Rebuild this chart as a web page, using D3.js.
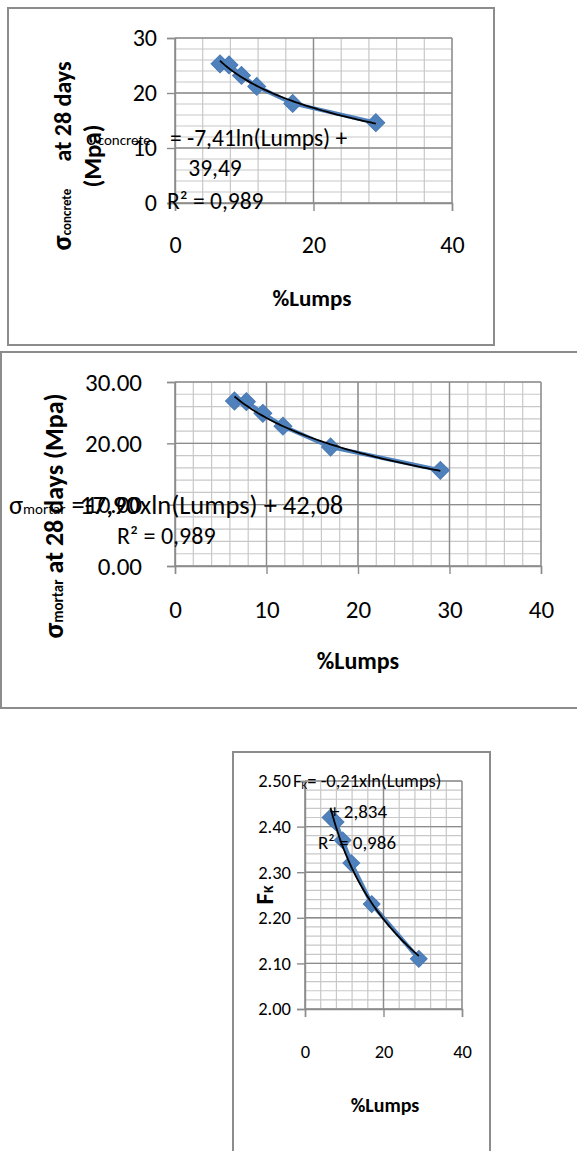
<!DOCTYPE html>
<html>
<head>
<meta charset="utf-8">
<script src="https://cdn.jsdelivr.net/npm/d3@7/dist/d3.min.js"></script>
<style>
  body { margin: 0; background: #fff; }
  text { font-family: Carlito, Lato, "Open Sans", sans-serif; }
</style>
</head>
<body>
<svg id="chart" width="577" height="1151"></svg>
<script>
// % lumps in the aggregate (same samples in all three charts)
const lumps = [6.5, 7.8, 9.6, 11.8, 17, 29];
// compressive strength of concrete at 28 days (MPa)
const concreteStrength = [25.3, 25.1, 23.2, 21.2, 18.1, 14.6];
// compressive strength of mortar at 28 days (MPa)
const mortarStrength = [26.9, 26.8, 24.9, 22.8, 19.4, 15.6];
// fineness modulus
const fkValues = [2.42, 2.41, 2.37, 2.32, 2.23, 2.11];

const concreteYTicks = [0, 10, 20, 30];
const mortarYTicks = [0, 10, 20, 30];
const fkYTicks = [2.0, 2.1, 2.2, 2.3, 2.4, 2.5];
const xTicksBy20 = [0, 20, 40];
const xTicksBy10 = [0, 10, 20, 30, 40];

const BLUE = "#4f81bd";
const svg = d3.select("#chart");
svg.append("rect").attr("width", 577).attr("height", 1151).attr("fill", "#fff");

// Excel-style log trendline: y = a*ln(x) + b, least squares
function logFit(xs, ys) {
  const lx = xs.map(Math.log);
  const mx = d3.mean(lx), my = d3.mean(ys);
  const a = d3.sum(lx, (v, i) => (v - mx) * (ys[i] - my)) / d3.sum(lx, v => (v - mx) ** 2);
  return { a, b: my - a * mx };
}

function drawChart(o) {
  const g = svg.append("g");
  const [fx, fy, fw, fh] = o.frame;
  g.append("rect").attr("x", fx).attr("y", fy).attr("width", fw).attr("height", fh)
    .attr("fill", "none").attr("stroke", "#8c8c8c").attr("stroke-width", 2);

  const x = d3.scaleLinear().domain(o.xDomain).range([o.l, o.r]);
  const y = d3.scaleLinear().domain(o.yDomain).range([o.b, o.t]);

  // minor gridlines
  const xMinor = d3.range(o.xDomain[0], o.xDomain[1] + 1e-9, o.xMinor);
  const yMinor = d3.range(o.yDomain[0], o.yDomain[1] + 1e-9, o.yMinor);
  g.append("g").selectAll("line").data(xMinor).join("line")
    .attr("x1", d => x(d)).attr("x2", d => x(d)).attr("y1", o.t).attr("y2", o.b)
    .attr("stroke", "#c8c8c8").attr("stroke-width", 1.2);
  g.append("g").selectAll("line").data(yMinor).join("line")
    .attr("x1", o.l).attr("x2", o.r).attr("y1", d => y(d)).attr("y2", d => y(d))
    .attr("stroke", "#c8c8c8").attr("stroke-width", 1.2);
  // major gridlines
  g.append("g").selectAll("line").data(o.xTicks).join("line")
    .attr("x1", d => x(d)).attr("x2", d => x(d)).attr("y1", o.t).attr("y2", o.b)
    .attr("stroke", "#8c8c8c").attr("stroke-width", 1.4);
  g.append("g").selectAll("line").data(o.yTicks).join("line")
    .attr("x1", o.l).attr("x2", o.r).attr("y1", d => y(d)).attr("y2", d => y(d))
    .attr("stroke", "#8c8c8c").attr("stroke-width", 1.4);

  const ax = g.append("g").attr("transform", `translate(0,${o.b})`)
    .call(d3.axisBottom(x).tickValues(o.xTicks).tickSize(8).tickPadding(o.xPad).tickFormat(d3.format("d")));
  const ay = g.append("g").attr("transform", `translate(${o.l},0)`)
    .call(d3.axisLeft(y).tickValues(o.yTicks).tickSize(8).tickPadding(o.yPad).tickFormat(o.yFmt));
  [ax, ay].forEach(a => {
    a.select(".domain").attr("stroke", "#8c8c8c").attr("stroke-width", 1.4);
    a.selectAll(".tick line").attr("stroke", "#8c8c8c").attr("stroke-width", 1.4);
    a.selectAll(".tick text").attr("fill", "#000").attr("font-size", o.tickSize)
      .style("font-family", "Carlito, Lato, sans-serif");
  });

  const pts = o.xs.map((v, i) => [v, o.ys[i]]);
  // series line
  g.append("path").datum(pts)
    .attr("d", d3.line().x(d => x(d[0])).y(d => y(d[1])))
    .attr("fill", "none").attr("stroke", BLUE).attr("stroke-width", 4);
  // diamond markers
  g.append("g").selectAll("path").data(pts).join("path")
    .attr("transform", d => `translate(${x(d[0])},${y(d[1])}) rotate(45)`)
    .attr("d", d3.symbol(d3.symbolSquare, o.marker))
    .attr("fill", BLUE).attr("stroke", "#4a7ab3").attr("stroke-width", 1);
  // trendline
  const fit = logFit(o.xs, o.ys);
  const [x0, x1] = d3.extent(o.xs);
  const tx = d3.range(0, 61).map(i => x0 + (x1 - x0) * i / 60);
  g.append("path").datum(tx)
    .attr("d", d3.line().x(d => x(d)).y(d => y(fit.a * Math.log(d) + fit.b)))
    .attr("fill", "none").attr("stroke", "#000").attr("stroke-width", 1.8);

  // x title
  g.append("text").attr("x", o.xTitle[0]).attr("y", o.xTitle[1])
    .attr("text-anchor", "middle").attr("font-size", o.titleSize).attr("font-weight", "bold")
    .text("%Lumps");
  return g;
}

// ---------- chart 1: concrete ----------
const g1 = drawChart({
  frame: [8, 8, 486, 337], l: 175, r: 452, t: 38, b: 203,
  xDomain: [0, 40], yDomain: [0, 30], xMinor: 4, yMinor: 2,
  xTicks: xTicksBy20, yTicks: concreteYTicks, yFmt: d3.format("d"),
  xPad: 25, yPad: 10, tickSize: 24, titleSize: 23, marker: 160,
  xs: lumps, ys: concreteStrength, xTitle: [312, 306]
});
const yt1 = g1.append("text").attr("transform", "translate(71,156) rotate(-90)")
  .attr("text-anchor", "middle").attr("font-weight", "bold").attr("font-size", 24)
  .attr("xml:space", "preserve");
yt1.append("tspan").attr("font-size", 28).text("σ");
yt1.append("tspan").attr("font-size", 13).text("concrete");
yt1.append("tspan").text("     at 28 days");
g1.append("text").attr("transform", "translate(101,156) rotate(-90)")
  .attr("text-anchor", "middle").attr("font-weight", "bold").attr("font-size", 25)
  .text("(Mpa)");
const eq1 = g1.append("text").attr("x", 86).attr("y", 145).attr("font-size", 22);
eq1.append("tspan").text("σ");
eq1.append("tspan").attr("font-size", 15).text("concrete");
g1.append("text").attr("x", 170).attr("y", 146).attr("font-size", 23.5).text("= -7,41ln(Lumps) +");
g1.append("text").attr("x", 215).attr("y", 176).attr("text-anchor", "middle")
  .attr("font-size", 23.5).text("39,49");
g1.append("text").attr("x", 167).attr("y", 209).attr("font-size", 23.5).text("R² = 0,989");

// ---------- chart 2: mortar ----------
const g2 = drawChart({
  frame: [1, 352, 590, 356], l: 175, r: 541, t: 382, b: 566,
  xDomain: [0, 40], yDomain: [0, 30], xMinor: 2, yMinor: 2,
  xTicks: xTicksBy10, yTicks: mortarYTicks, yFmt: d3.format(".2f"),
  xPad: 26, yPad: 25, tickSize: 25, titleSize: 24, marker: 160,
  xs: lumps, ys: mortarStrength, xTitle: [358, 669]
});
const yt2 = g2.append("text").attr("transform", "translate(63,516) rotate(-90)")
  .attr("text-anchor", "middle").attr("font-weight", "bold").attr("font-size", 26);
yt2.append("tspan").attr("font-size", 29).text("σ");
yt2.append("tspan").attr("font-size", 15).text("mortar");
yt2.append("tspan").text(" at 28 days (Mpa)");
const eq2 = g2.append("text").attr("x", 9).attr("y", 514).attr("font-size", 26.5);
eq2.append("tspan").text("σ");
eq2.append("tspan").attr("font-size", 15).text("mortar");
eq2.append("tspan").text(" =");
const dashSpan = eq2.append("tspan").text("-7,90xln(Lumps) + 42,08");
// second, overlapping coefficient as it appears in the source figure
const dashX = dashSpan.node().getStartPositionOfChar(0).x;
g2.append("text").attr("x", dashX - 5).attr("y", 514).attr("font-size", 26.5).text("17,90");
g2.append("text").attr("x", 117).attr("y", 544).attr("font-size", 24).text("R² = 0,989");

// ---------- chart 3: Fk ----------
const g3 = drawChart({
  frame: [233, 752, 257, 420], l: 305, r: 462, t: 781, b: 1009,
  xDomain: [0, 40], yDomain: [2.0, 2.5], xMinor: 4, yMinor: 0.02,
  xTicks: xTicksBy20, yTicks: fkYTicks, yFmt: d3.format(".2f"),
  xPad: 28, yPad: 6, tickSize: 18.5, titleSize: 20, marker: 140,
  xs: lumps, ys: fkValues, xTitle: [385, 1112]
});
const yt3 = g3.append("text").attr("transform", "translate(273,895) rotate(-90)")
  .attr("text-anchor", "middle").attr("font-weight", "bold").attr("font-size", 25);
yt3.append("tspan").text("F");
yt3.append("tspan").attr("font-size", 14).text("K");
const eq3 = g3.append("text").attr("x", 293).attr("y", 787).attr("font-size", 18.5);
eq3.append("tspan").text("F");
eq3.append("tspan").attr("font-size", 11).attr("dy", 2).text("K");
eq3.append("tspan").attr("dy", -2).text("= -0,21xln(Lumps)");
g3.append("text").attr("x", 330).attr("y", 818).attr("font-size", 19).text("+ 2,834");
g3.append("text").attr("x", 318).attr("y", 849).attr("font-size", 19).text("R² = 0,986");
</script>
</body>
</html>
